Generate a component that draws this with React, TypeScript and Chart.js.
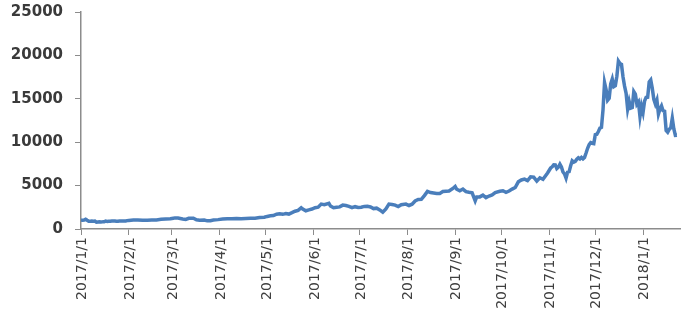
import React, { useEffect, useRef, useState } from "react";
import { Chart, registerables } from "chart.js";

Chart.register(...registerables);

// Daily closing values
const DATES: string[] = [
  "2017-01-01","2017-01-02","2017-01-03","2017-01-04","2017-01-05","2017-01-06","2017-01-07","2017-01-08","2017-01-09","2017-01-10",
  "2017-01-11","2017-01-12","2017-01-13","2017-01-14","2017-01-15","2017-01-16","2017-01-17","2017-01-18","2017-01-19","2017-01-20",
  "2017-01-21","2017-01-22","2017-01-23","2017-01-24","2017-01-25","2017-01-26","2017-01-27","2017-01-28","2017-01-29","2017-01-30","2017-01-31",
  "2017-02-01","2017-02-04","2017-02-07","2017-02-10","2017-02-13","2017-02-16","2017-02-19","2017-02-22","2017-02-25","2017-02-28",
  "2017-03-02","2017-03-03","2017-03-05","2017-03-08","2017-03-10","2017-03-12","2017-03-15","2017-03-17","2017-03-19","2017-03-22","2017-03-24","2017-03-26","2017-03-28","2017-03-31",
  "2017-04-03","2017-04-06","2017-04-09","2017-04-12","2017-04-15","2017-04-18","2017-04-21","2017-04-24","2017-04-27","2017-04-30",
  "2017-05-02","2017-05-04","2017-05-06","2017-05-08","2017-05-10","2017-05-12","2017-05-14","2017-05-16","2017-05-18","2017-05-20","2017-05-22","2017-05-24","2017-05-25","2017-05-27","2017-05-29","2017-05-31",
  "2017-06-02","2017-06-04","2017-06-06","2017-06-08","2017-06-11","2017-06-12","2017-06-14","2017-06-16","2017-06-18","2017-06-20","2017-06-22","2017-06-24","2017-06-26","2017-06-28","2017-06-30",
  "2017-07-02","2017-07-04","2017-07-06","2017-07-08","2017-07-10","2017-07-12","2017-07-14","2017-07-16","2017-07-18","2017-07-20","2017-07-22","2017-07-24","2017-07-26","2017-07-28","2017-07-31",
  "2017-08-02","2017-08-04","2017-08-06","2017-08-08","2017-08-10","2017-08-12","2017-08-14","2017-08-16","2017-08-18","2017-08-20","2017-08-22","2017-08-24","2017-08-26","2017-08-28","2017-08-31",
  "2017-09-01","2017-09-02","2017-09-04","2017-09-06","2017-09-08","2017-09-10","2017-09-12","2017-09-14","2017-09-15","2017-09-17","2017-09-19","2017-09-21","2017-09-23","2017-09-25","2017-09-27","2017-09-30",
  "2017-10-02","2017-10-04","2017-10-06","2017-10-08","2017-10-10","2017-10-12","2017-10-14","2017-10-16","2017-10-18","2017-10-20","2017-10-22","2017-10-24","2017-10-26","2017-10-28","2017-10-31",
  "2017-11-01","2017-11-02","2017-11-03","2017-11-04","2017-11-05","2017-11-06","2017-11-07","2017-11-08","2017-11-09","2017-11-10",
  "2017-11-11","2017-11-12","2017-11-13","2017-11-14","2017-11-15","2017-11-16","2017-11-17","2017-11-18","2017-11-19","2017-11-20",
  "2017-11-21","2017-11-22","2017-11-23","2017-11-24","2017-11-25","2017-11-26","2017-11-27","2017-11-28","2017-11-29","2017-11-30",
  "2017-12-01","2017-12-02","2017-12-03","2017-12-04","2017-12-05","2017-12-06","2017-12-07","2017-12-08","2017-12-09","2017-12-10",
  "2017-12-11","2017-12-12","2017-12-13","2017-12-14","2017-12-15","2017-12-16","2017-12-17","2017-12-18","2017-12-19","2017-12-20",
  "2017-12-21","2017-12-22","2017-12-23","2017-12-24","2017-12-25","2017-12-26","2017-12-27","2017-12-28","2017-12-29","2017-12-30","2017-12-31",
  "2018-01-01","2018-01-02","2018-01-03","2018-01-04","2018-01-05","2018-01-06","2018-01-07","2018-01-08","2018-01-09","2018-01-10",
  "2018-01-11","2018-01-12","2018-01-13","2018-01-14","2018-01-15","2018-01-16","2018-01-17","2018-01-18","2018-01-19","2018-01-20",
  "2018-01-21","2018-01-22","2018-01-23",
];

const PRICES: number[] = [
  998,1014,1036,1130,1006,890,900,908,896,906,
  785,812,826,818,822,830,904,870,898,894,
  923,922,920,892,893,915,919,920,914,920,966,
  988,1030,1050,1000,995,1035,1050,1120,1150,1190,
  1250,1280,1270,1150,1100,1230,1250,1070,1020,1040,940,960,1040,1080,
  1140,1190,1180,1200,1180,1210,1240,1250,1320,1350,
  1450,1520,1550,1700,1750,1690,1780,1720,1880,2050,2150,2450,2300,2100,2200,2300,
  2450,2520,2870,2800,2960,2650,2450,2500,2550,2750,2700,2600,2450,2570,2480,
  2500,2600,2610,2540,2350,2400,2200,1930,2300,2870,2830,2750,2580,2800,2870,
  2710,2860,3230,3400,3420,3850,4330,4200,4150,4100,4100,4320,4350,4380,4740,
  4900,4580,4400,4600,4300,4230,4170,3240,3700,3700,3900,3620,3800,3930,4200,4340,
  4400,4220,4370,4600,4780,5430,5650,5750,5570,6000,5980,5520,5900,5730,6450,
  6740,7030,7170,7400,7380,6960,7120,7460,7140,6570,
  6340,5860,6550,6600,7280,7850,7700,7790,8040,8200,
  8070,8250,8090,8250,8750,9300,9730,9950,9880,9840,
  10860,10910,11230,11620,11700,13710,16860,16060,14840,15060,
  16730,17280,16400,16520,17600,19340,19060,18960,17520,16460,
  15630,13830,14700,13930,14000,15840,15550,14390,14640,12950,14160,
  13440,14750,15160,15180,16940,17170,16200,14950,14400,14870,
  13240,13830,14190,13630,13560,11350,11150,11480,11650,12760,
  11530,10780,10800,
];

const MONTH_LABELS: string[] = [
  "2017/1/1","2017/2/1","2017/3/1","2017/4/1","2017/5/1","2017/6/1","2017/7/1",
  "2017/8/1","2017/9/1","2017/10/1","2017/11/1","2017/12/1","2018/1/1",
];

const Y_TICKS: number[] = [0, 5000, 10000, 15000, 20000, 25000];

const START = "2017-01-01";
const END = "2018-01-25";

const dayIndex = (s: string) => {
  const [y, m, d] = s.replace(/\//g, "-").split("-").map(Number);
  const [y0, m0, d0] = START.split("-").map(Number);
  return Math.round((Date.UTC(y, m - 1, d) - Date.UTC(y0, m0 - 1, d0)) / 86400000);
};

type LabelPos = { label: string; x: number; y: number };

export default function App() {
  const ref = useRef<HTMLCanvasElement | null>(null);
  const [labels, setLabels] = useState<LabelPos[]>([]);

  useEffect(() => {
    if (!ref.current) return;
    const points = DATES.map((d, i) => ({ x: dayIndex(d), y: PRICES[i] }));
    const monthTicks = MONTH_LABELS.map((l) => dayIndex(l));

    const chart = new Chart(ref.current, {
      type: "line",
      data: {
        datasets: [
          {
            data: points,
            borderColor: "#4a7ebb",
            borderWidth: 3.5,
            pointRadius: 0,
            tension: 0,
            fill: false,
          },
        ],
      },
      options: {
        animation: false,
        responsive: false,
        maintainAspectRatio: false,
        layout: { padding: { top: 12, right: 5, left: 0, bottom: 0 } },
        plugins: { legend: { display: false }, tooltip: { enabled: false } },
        scales: {
          x: {
            type: "linear",
            min: 0,
            max: dayIndex(END),
            afterBuildTicks: (axis: any) => {
              axis.ticks = monthTicks.map((v) => ({ value: v }));
            },
            afterFit: (axis: any) => {
              axis.height = 97;
              axis.paddingLeft = 0;
              axis.paddingRight = 0;
            },
            ticks: { display: false, autoSkip: false },
            grid: {
              drawOnChartArea: false,
              drawTicks: true,
              tickLength: 6,
              color: "#8c8c8c",
            },
            border: { display: true, color: "#8c8c8c", width: 1.5 },
          },
          y: {
            min: 0,
            max: 25000,
            afterBuildTicks: (axis: any) => {
              axis.ticks = Y_TICKS.map((v) => ({ value: v }));
            },
            afterFit: (axis: any) => {
              axis.width = 81;
              axis.paddingTop = 0;
              axis.paddingBottom = 0;
            },
            ticks: {
              padding: 12,
              color: "#3a3a3a",
              font: { family: "DejaVu Sans", size: 15, weight: "bold" },
              callback: (v: any) => String(v),
            },
            grid: {
              drawOnChartArea: false,
              drawTicks: true,
              tickLength: 6,
              color: "#8c8c8c",
            },
            border: { display: true, color: "#8c8c8c", width: 1.5 },
          },
        },
      },
    } as any);

    const xs: any = chart.scales.x;
    setLabels(
      MONTH_LABELS.map((l, i) => ({
        label: l,
        x: xs.getPixelForValue(monthTicks[i]),
        y: xs.top + 8,
      }))
    );

    return () => chart.destroy();
  }, []);

  return (
    <div style={{ position: "absolute", left: 0, top: 0, width: 685, height: 326, background: "#fff", overflow: "hidden" }}>
      <canvas ref={ref} width={685} height={326} style={{ display: "block", width: 685, height: 326 }} />
      {labels.map((p) => (
        <div
          key={p.label}
          style={{
            position: "absolute",
            left: p.x - 8,
            top: p.y,
            width: 16,
            lineHeight: "16px",
            writingMode: "vertical-rl",
            transform: "rotate(180deg)",
            whiteSpace: "nowrap",
            font: '14px "DejaVu Sans"',
            color: "#404040",
          }}
        >
          {p.label}
        </div>
      ))}
    </div>
  );
}
